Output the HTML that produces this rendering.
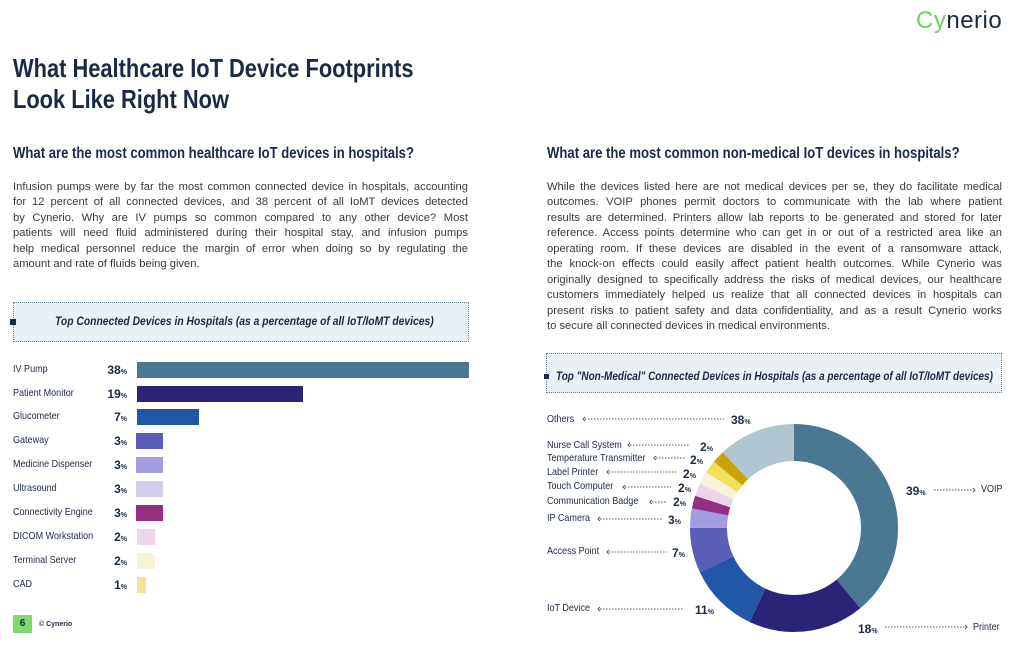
<!DOCTYPE html>
<html><head><meta charset="utf-8">
<style>
*{margin:0;padding:0;box-sizing:border-box}
body{width:1033px;height:657px;background:#fff;position:relative;overflow:hidden;font-family:"Liberation Sans",sans-serif;color:#1b2a44}
.a{position:absolute;white-space:nowrap}
.n{transform-origin:left center;transform:scaleX(0.86)}
.p{position:absolute;width:455px;font-size:11.2px;color:#3a3a3a;white-space:nowrap;text-align:justify;text-align-last:justify;line-height:14px}
.lbl{font-size:10.5px;color:#1b2a44}
.pc{font-size:12px;font-weight:bold;color:#1b2a44;text-align:right}
.pc small{font-size:7px}
.bar{position:absolute;height:16px}
.box{position:absolute;background:#e9f0f6;border:1px dotted #6b7d95}
</style></head><body>

<div class="a" style="left:916px;top:7px;font-size:24px;color:#1b2a3a;letter-spacing:0.5px"><span style="color:#6fd15e">Cy</span>nerio</div>

<div class="a n" style="left:13px;top:53px;font-size:26px;font-weight:bold;line-height:31px;transform:scaleX(0.84)">What Healthcare IoT Device Footprints<br>Look Like Right Now</div>

<div class="a n" style="left:13px;top:145px;font-size:16px;font-weight:bold;transform:scaleX(0.82)">What are the most common healthcare IoT devices in hospitals?</div>
<div class="a n" style="left:547px;top:145px;font-size:16px;font-weight:bold;transform:scaleX(0.82)">What are the most common non-medical IoT devices in hospitals?</div>

<div class="p" style="left:13px;top:180px">Infusion pumps were by far the most common connected device in hospitals, accounting</div>
<div class="p" style="left:13px;top:195px">for 12 percent of all connected devices, and 38 percent of all IoMT devices detected</div>
<div class="p" style="left:13px;top:211px">by Cynerio. Why are IV pumps so common compared to any other device? Most</div>
<div class="p" style="left:13px;top:226px">patients will need fluid administered during their hospital stay, and infusion pumps</div>
<div class="p" style="left:13px;top:242px">help medical personnel reduce the margin of error when doing so by regulating the</div>
<div class="p" style="left:13px;top:257px;width:auto;text-align-last:left">amount and rate of fluids being given.</div>

<div class="p" style="left:547px;top:180px">While the devices listed here are not medical devices per se, they do facilitate medical</div>
<div class="p" style="left:547px;top:195px">outcomes. VOIP phones permit doctors to communicate with the lab where patient</div>
<div class="p" style="left:547px;top:211px">results are determined. Printers allow lab reports to be generated and stored for later</div>
<div class="p" style="left:547px;top:226px">reference. Access points determine who can get in or out of a restricted area like an</div>
<div class="p" style="left:547px;top:242px">operating room. If these devices are disabled in the event of a ransomware attack,</div>
<div class="p" style="left:547px;top:257px">the knock-on effects could easily affect patient health outcomes. While Cynerio was</div>
<div class="p" style="left:547px;top:273px">originally designed to specifically address the risks of medical devices, our healthcare</div>
<div class="p" style="left:547px;top:288px">customers immediately helped us realize that all connected devices in hospitals can</div>
<div class="p" style="left:547px;top:304px">present risks to patient safety and data confidentiality, and as a result Cynerio works</div>
<div class="p" style="left:547px;top:319px;width:auto;text-align-last:left">to secure all connected devices in medical environments.</div>

<div class="box" style="left:13px;top:302px;width:456px;height:40px"></div>
<div class="a" style="left:10px;top:319px;width:6px;height:6px;background:#1b2a44"></div>
<div class="a n" style="left:55px;top:314px;font-size:12px;font-weight:bold;font-style:italic;transform:scaleX(0.86)">Top Connected Devices in Hospitals (as a percentage of all IoT/IoMT devices)</div>

<div class="a n lbl" style="left:13px;top:363px">IV Pump</div>
<div class="a n lbl" style="left:13px;top:387px">Patient Monitor</div>
<div class="a n lbl" style="left:13px;top:410px">Glucometer</div>
<div class="a n lbl" style="left:13px;top:434px">Gateway</div>
<div class="a n lbl" style="left:13px;top:458px">Medicine Dispenser</div>
<div class="a n lbl" style="left:13px;top:482px">Ultrasound</div>
<div class="a n lbl" style="left:13px;top:506px">Connectivity Engine</div>
<div class="a n lbl" style="left:13px;top:530px">DICOM Workstation</div>
<div class="a n lbl" style="left:13px;top:554px">Terminal Server</div>
<div class="a n lbl" style="left:13px;top:578px">CAD</div>

<div class="a pc" style="left:87px;width:40px;top:363px">38<small>%</small></div>
<div class="a pc" style="left:87px;width:40px;top:387px">19<small>%</small></div>
<div class="a pc" style="left:87px;width:40px;top:410px">7<small>%</small></div>
<div class="a pc" style="left:87px;width:40px;top:434px">3<small>%</small></div>
<div class="a pc" style="left:87px;width:40px;top:458px">3<small>%</small></div>
<div class="a pc" style="left:87px;width:40px;top:482px">3<small>%</small></div>
<div class="a pc" style="left:87px;width:40px;top:506px">3<small>%</small></div>
<div class="a pc" style="left:87px;width:40px;top:530px">2<small>%</small></div>
<div class="a pc" style="left:87px;width:40px;top:554px">2<small>%</small></div>
<div class="a pc" style="left:87px;width:40px;top:578px">1<small>%</small></div>

<div class="bar" style="left:137px;top:362px;width:332px;background:#4a7893"></div>
<div class="bar" style="left:137px;top:386px;width:166px;background:#2a2377"></div>
<div class="bar" style="left:137px;top:409px;width:62px;background:#2257a8"></div>
<div class="bar" style="left:136px;top:433px;width:27px;background:#5b5db8"></div>
<div class="bar" style="left:136px;top:457px;width:27px;background:#a39ce0"></div>
<div class="bar" style="left:136px;top:481px;width:27px;background:#d2cde9"></div>
<div class="bar" style="left:136px;top:505px;width:27px;background:#952f82"></div>
<div class="bar" style="left:137px;top:529px;width:18px;background:#ecd5e8"></div>
<div class="bar" style="left:137px;top:553px;width:18px;background:#f6f3da"></div>
<div class="bar" style="left:137px;top:577px;width:9px;background:#f0e39a"></div>

<div class="a" style="left:13px;top:615px;width:19px;height:18px;background:#7edb6a;font-size:10px;font-weight:bold;text-align:center;line-height:18px">6</div>
<div class="a" style="left:39px;top:621px;font-size:7px;font-weight:bold">© Cynerio</div>

<div class="box" style="left:546px;top:353px;width:456px;height:40px"></div>
<div class="a" style="left:544px;top:374px;width:5px;height:5px;background:#1b2a44"></div>
<div class="a n" style="left:556px;top:369px;font-size:12px;font-weight:bold;font-style:italic;transform:scaleX(0.83)">Top "Non-Medical" Connected Devices in Hospitals (as a percentage of all IoT/IoMT devices)</div>

<svg class="a" style="left:0;top:0" width="1033" height="657">
<g transform="rotate(-90 794 528)" fill="none" stroke-width="37">
<circle cx="794" cy="528" r="85.5" stroke="#4a7893" stroke-dasharray="209.5 400" stroke-dashoffset="0"/>
<circle cx="794" cy="528" r="85.5" stroke="#2a2377" stroke-dasharray="96.7 500" stroke-dashoffset="-209.5"/>
<circle cx="794" cy="528" r="85.5" stroke="#2257a8" stroke-dasharray="59.1 500" stroke-dashoffset="-306.2"/>
<circle cx="794" cy="528" r="85.5" stroke="#5b5db8" stroke-dasharray="37.6 500" stroke-dashoffset="-365.3"/>
<circle cx="794" cy="528" r="85.5" stroke="#a39ce0" stroke-dasharray="16.1 500" stroke-dashoffset="-402.9"/>
<circle cx="794" cy="528" r="85.5" stroke="#952f82" stroke-dasharray="10.7 500" stroke-dashoffset="-419"/>
<circle cx="794" cy="528" r="85.5" stroke="#ecd5e8" stroke-dasharray="10.7 500" stroke-dashoffset="-429.7"/>
<circle cx="794" cy="528" r="85.5" stroke="#f6f3da" stroke-dasharray="10.7 500" stroke-dashoffset="-440.4"/>
<circle cx="794" cy="528" r="85.5" stroke="#f0e05a" stroke-dasharray="10.7 500" stroke-dashoffset="-451.1"/>
<circle cx="794" cy="528" r="85.5" stroke="#c9a30a" stroke-dasharray="10.7 500" stroke-dashoffset="-461.8"/>
<circle cx="794" cy="528" r="85.5" stroke="#b0c6d0" stroke-dasharray="64.7 500" stroke-dashoffset="-472.5"/>
</g>
<g stroke="#556" stroke-width="1" stroke-dasharray="1.5 1.5" fill="none">
<line x1="585" y1="419" x2="724" y2="419"/>
<line x1="630" y1="445" x2="690" y2="445"/>
<line x1="656" y1="458" x2="685" y2="458"/>
<line x1="609" y1="472" x2="676" y2="472"/>
<line x1="625" y1="487" x2="671" y2="487"/>
<line x1="652" y1="502" x2="667" y2="502"/>
<line x1="600" y1="519" x2="662" y2="519"/>
<line x1="609" y1="552" x2="667" y2="552"/>
<line x1="600" y1="609" x2="683" y2="609"/>
<line x1="934" y1="490" x2="973" y2="490"/>
<line x1="885" y1="627" x2="965" y2="627"/>
</g>
<g stroke="#556" stroke-width="1" fill="none">
<polyline points="585,417 583,419 585,421"/>
<polyline points="630,443 628,445 630,447"/>
<polyline points="656,456 654,458 656,460"/>
<polyline points="609,470 607,472 609,474"/>
<polyline points="625,485 623,487 625,489"/>
<polyline points="652,500 650,502 652,504"/>
<polyline points="600,517 598,519 600,521"/>
<polyline points="609,550 607,552 609,554"/>
<polyline points="600,607 598,609 600,611"/>
<polyline points="973,488 975,490 973,492"/>
<polyline points="965,625 967,627 965,629"/>
</g>
</svg>

<div class="a n lbl" style="left:547px;top:413px">Others</div>
<div class="a n lbl" style="left:547px;top:439px">Nurse Call System</div>
<div class="a n lbl" style="left:547px;top:452px">Temperature Transmitter</div>
<div class="a n lbl" style="left:547px;top:466px">Label Printer</div>
<div class="a n lbl" style="left:547px;top:480px">Touch Computer</div>
<div class="a n lbl" style="left:547px;top:495px">Communication Badge</div>
<div class="a n lbl" style="left:547px;top:512px">IP Camera</div>
<div class="a n lbl" style="left:547px;top:545px">Access Point</div>
<div class="a n lbl" style="left:547px;top:602px">IoT Device</div>
<div class="a n lbl" style="left:981px;top:483px">VOIP</div>
<div class="a n lbl" style="left:973px;top:621px">Printer</div>

<div class="a pc" style="left:731px;top:413px">38<small>%</small></div>
<div class="a pc" style="left:700px;top:440px">2<small>%</small></div>
<div class="a pc" style="left:690px;top:453px">2<small>%</small></div>
<div class="a pc" style="left:683px;top:467px">2<small>%</small></div>
<div class="a pc" style="left:678px;top:481px">2<small>%</small></div>
<div class="a pc" style="left:673px;top:495px">2<small>%</small></div>
<div class="a pc" style="left:668px;top:513px">3<small>%</small></div>
<div class="a pc" style="left:672px;top:546px">7<small>%</small></div>
<div class="a pc" style="left:695px;top:603px">11<small>%</small></div>
<div class="a pc" style="left:906px;top:484px">39<small>%</small></div>
<div class="a pc" style="left:858px;top:622px">18<small>%</small></div>

</body></html>
